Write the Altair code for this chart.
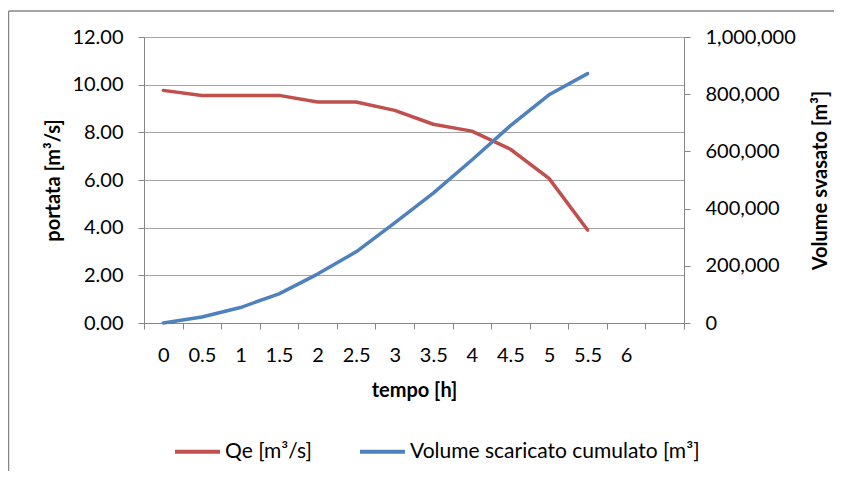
import altair as alt
import pandas as pd

# ---- data ----
tempo = ["0", "0.5", "1", "1.5", "2", "2.5", "3", "3.5", "4", "4.5", "5", "5.5"]
categories = tempo + ["6", "6.5"]          # axis categories ("6.5" has a blank label)
qe = [9.76, 9.55, 9.55, 9.55, 9.27, 9.27, 8.92, 8.34, 8.05, 7.29, 6.07, 3.90]
volume = [0, 21000, 54000, 102000, 171000, 249000, 350000, 454000,
          570000, 690000, 798000, 872000]
series = ["Qe [m³/s]", "Volume scaricato cumulato [m³]"]
colors = ["#C0504D", "#4F81BD"]
left_ticks = [0, 2, 4, 6, 8, 10, 12]
right_ticks = [0, 200000, 400000, 600000, 800000, 1000000]

df = pd.DataFrame({"tempo": tempo, "qe": qe, "volume": volume})

FONT = "Lato"
AXIS_GRAY = "#868686"
GRID_GRAY = "#A6A6A6"
W, H = 540, 286

x_enc = alt.X(
    "tempo:N",
    sort=categories,
    bandPosition=0.5,
    scale=alt.Scale(type="band", domain=categories, paddingInner=0, paddingOuter=0),
    axis=alt.Axis(
        title="tempo [h]",
        tickBand="extent",
        labelAngle=0,
        labelExpr="datum.value == '6.5' ? '' : datum.value",
        labelFont=FONT, labelFontSize=20, labelColor="#000000", labelPadding=16,
        titleFont=FONT, titleFontSize=20, titleFontWeight="bold", titleColor="#000000",
        titleX=W / 2, titleY=67, titleBaseline="middle", titleAlign="center",
        domainColor=AXIS_GRAY, tickColor=AXIS_GRAY, tickSize=6, grid=False,
    ),
)

color_enc = alt.Color(
    "serie:N",
    scale=alt.Scale(domain=series, range=colors),
    legend=alt.Legend(
        title=None, orient="none", direction="horizontal",
        legendX=29, legendY=390, padding=0,
        symbolType="stroke", symbolStrokeWidth=4, symbolSize=2025,
        labelFont=FONT, labelFontSize=21, labelColor="#000000", labelOffset=3,
        labelLimit=500, columnPadding=40,
    ),
)

base = alt.Chart(df)

red = base.transform_calculate(serie="'" + series[0] + "'").mark_line(
    strokeWidth=3.5, strokeCap="round", strokeJoin="round"
).encode(
    x=x_enc,
    y=alt.Y(
        "qe:Q",
        scale=alt.Scale(domain=[0, 12], nice=False, zero=True),
        axis=alt.Axis(
            orient="left", values=left_ticks, format=".2f",
            title="portata [m³/s]",
            labelFont=FONT, labelFontSize=20, labelColor="#000000", labelPadding=15,
            titleFont=FONT, titleFontSize=20, titleFontWeight="bold", titleColor="#000000",
            titleX=-91, titleY=H / 2, titleAngle=270, titleBaseline="middle", titleAlign="center",
            domainColor=AXIS_GRAY, tickColor=AXIS_GRAY, tickSize=6,
            grid=True, gridColor=GRID_GRAY, gridWidth=1,
        ),
    ),
    color=color_enc,
)

blue = base.transform_calculate(serie="'" + series[1] + "'").mark_line(
    strokeWidth=3.5, strokeCap="round", strokeJoin="round"
).encode(
    x=x_enc,
    y=alt.Y(
        "volume:Q",
        scale=alt.Scale(domain=[0, 1000000], nice=False, zero=True),
        axis=alt.Axis(
            orient="right", values=right_ticks, format=",d",
            title="Volume svasato [m³]",
            labelFont=FONT, labelFontSize=20, labelColor="#000000", labelPadding=15,
            titleFont=FONT, titleFontSize=20, titleFontWeight="bold", titleColor="#000000",
            titleX=136, titleY=H / 2, titleAngle=270, titleBaseline="middle", titleAlign="center",
            domainColor=AXIS_GRAY, tickColor=AXIS_GRAY, tickSize=6, grid=False,
        ),
    ),
    color=color_enc,
)

# chart-area frame (decoration, like the Excel chart border: left and top edges visible)
frame_df = pd.DataFrame({"f": [0]})
frame_left = alt.Chart(frame_df).mark_rule(color=AXIS_GRAY, strokeWidth=1.5).encode(
    x=alt.value(-135.5), y=alt.value(-26), y2=alt.value(600),
)
frame_top = alt.Chart(frame_df).mark_rule(color=AXIS_GRAY, strokeWidth=1.5).encode(
    x=alt.value(-135.5), x2=alt.value(900), y=alt.value(-26),
)

chart = alt.layer(red, blue, frame_left, frame_top).resolve_scale(y="independent").properties(
    width=W, height=H,
    autosize=alt.AutoSizeParams(type="none"),
    padding={"left": 136, "top": 29, "right": 150, "bottom": 148},
    background="white",
).configure_view(strokeWidth=0)

chart.save("out.html", embed_options={"renderer": "svg", "actions": False})
